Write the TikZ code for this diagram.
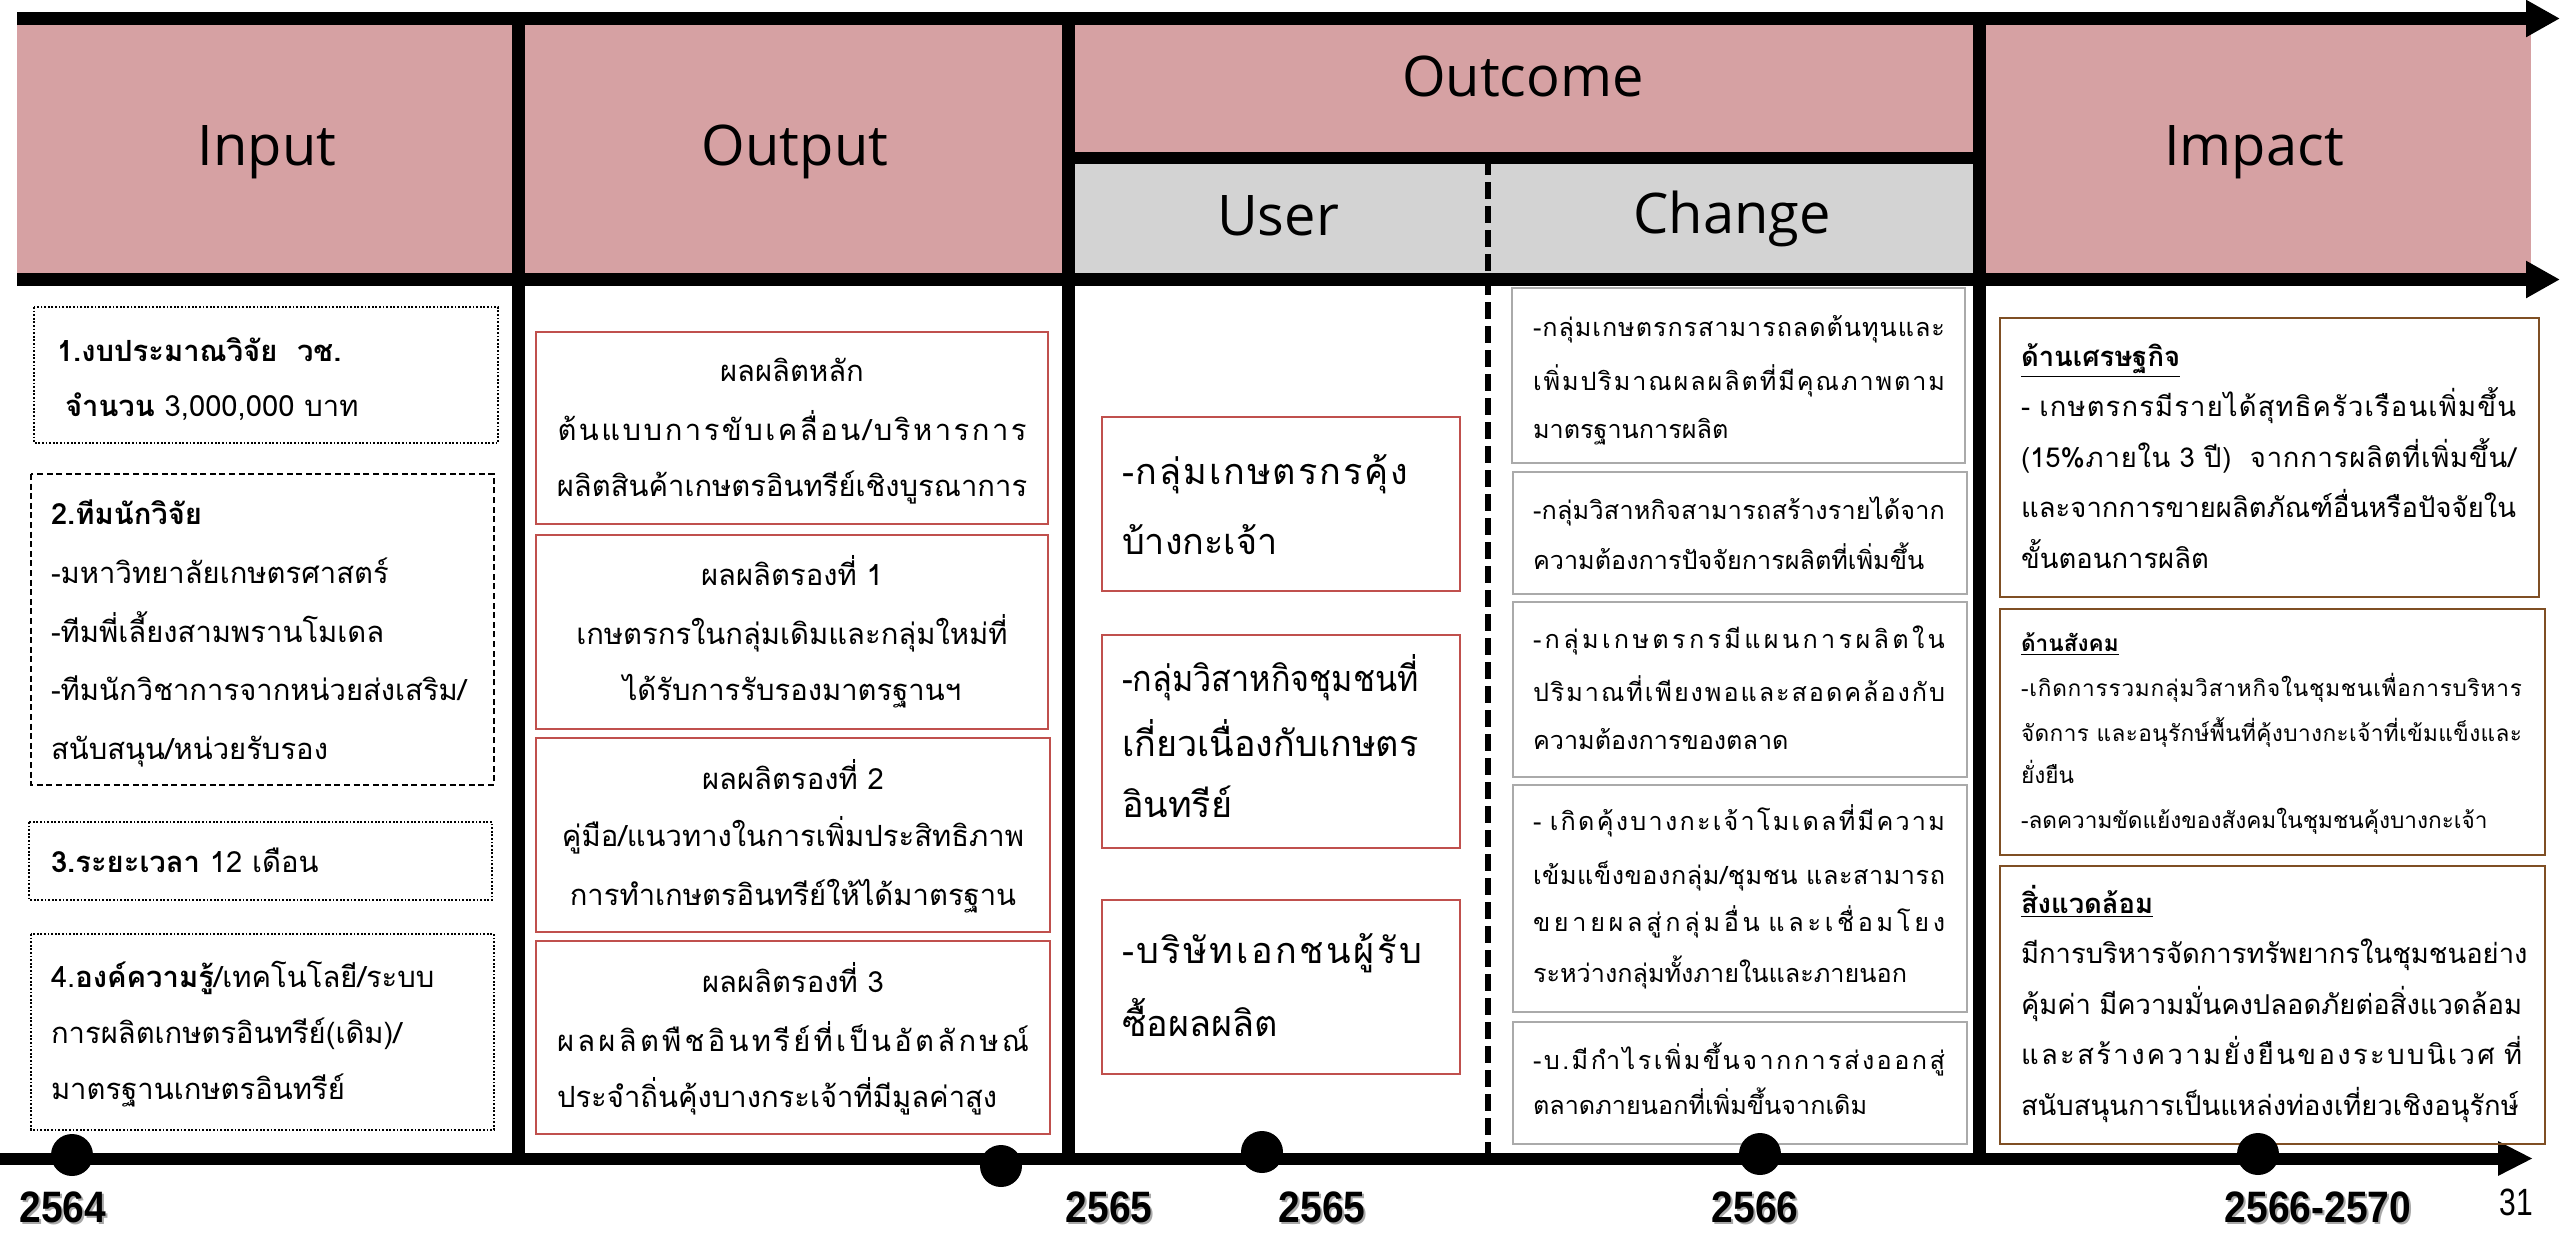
\documentclass[tikz,border=0pt]{standalone}
\usepackage{fontspec}
\usetikzlibrary{arrows.meta}
\newfontfamily\thai[Script=Thai]{Loma}
\newfontfamily\hdr{Open Sans}
\newfontfamily\yrf{Liberation Sans}
\definecolor{hpink}{HTML}{D6A1A3}
\definecolor{hgray}{HTML}{D3D3D3}
\definecolor{ored}{HTML}{C0504D}
\definecolor{cgray}{HTML}{AAAAAA}
\definecolor{ibrown}{HTML}{7F4F24}
\definecolor{shad}{HTML}{A8A8A8}
% ---- Thai distributed justification via interchar glue ----
\XeTeXinterchartokenstate=0
\newXeTeXintercharclass\ThB
\newXeTeXintercharclass\ThM
\newcount\thc
\thc="0E01 \loop \XeTeXcharclass\thc=\ThB \advance\thc by 1 \ifnum\thc<"0E5C \repeat
\XeTeXcharclass"0E31=\ThM
\thc="0E33 \loop \XeTeXcharclass\thc=\ThM \advance\thc by 1 \ifnum\thc<"0E3B \repeat
\thc="0E47 \loop \XeTeXcharclass\thc=\ThM \advance\thc by 1 \ifnum\thc<"0E4F \repeat
\def\thglue{\hskip 0pt plus 1fil\relax}
\XeTeXinterchartoks\ThB\ThB={\thglue}
\XeTeXinterchartoks\ThM\ThB={\thglue}
\XeTeXinterchartoks 0 \ThB={\thglue}
\XeTeXinterchartoks\ThB 0 ={\thglue}
\XeTeXinterchartoks\ThM 0 ={\thglue}
\newcommand\spr[2]{\makebox[#1][s]{\XeTeXinterchartokenstate=1 #2}}
\newcounter{lnc}
\newcommand\TL[4][]{\stepcounter{lnc}\node[tline,#1] (ln\arabic{lnc}) at (#2,#3) {#4};}
\newcommand\YR[3]{\node[yrs] (ys#1) at ([xshift=1pt,yshift=-1pt]#2) {\scalebox{0.885}[1]{#3}};
  \node[yr] (y#1) at (#2) {\scalebox{0.885}[1]{#3}};}
\begin{document}
\begin{tikzpicture}[x=0.5pt,y=-0.5pt,
  tline/.style={anchor=base west,inner sep=0pt,outer sep=0pt},
  fin/.style={font=\thai\fontsize{14.6pt}{18pt}\selectfont},
  fout/.style={font=\thai\fontsize{14.6pt}{18pt}\selectfont,anchor=base},
  fuser/.style={font=\thai\fontsize{18pt}{22pt}\selectfont},
  fchg/.style={font=\thai\fontsize{12.6pt}{16pt}\selectfont},
  fimp/.style={font=\thai\fontsize{13.7pt}{16pt}\selectfont},
  fimpb/.style={font=\thai\fontsize{11.3pt}{14pt}\selectfont},
  hlab/.style={font=\hdr\fontsize{28pt}{32pt}\selectfont,anchor=base,inner sep=0pt},
  yr/.style={font=\yrf\bfseries\fontsize{22pt}{26pt}\selectfont,anchor=base,inner sep=0pt},
  yrs/.style={yr,text=shad},
  sep/.style={line width=6.5pt},
  axis/.style={line width=6.5pt,-{Triangle[length=17pt,width=17.5pt]}},
  dotbox/.style={draw=black,line width=0.8pt,dash pattern=on 0.9pt off 0.9pt},
  dashbox/.style={draw=black,line width=0.9pt,dash pattern=on 3pt off 1.8pt},
  redbox/.style={draw=ored,line width=1.2pt},
  graybox/.style={draw=cgray,line width=1.4pt},
  brownbox/.style={draw=ibrown,line width=1.1pt},
  dot/.style={fill=black}]
\useasboundingbox (0,0) rectangle (2560,1232);
\fill[white] (0,0) rectangle (2560,1232);
% header fills
\fill[hpink] (17,25) rectangle (2531,273);
\fill[hgray] (1068,158) rectangle (1979,279);
% coordinates
\coordinate (dT) at (1488,158);
\coordinate (dB) at (1488,1158);
\coordinate (s1T) at (518,18); \coordinate (s1B) at (518,1158);
\coordinate (s2T) at (1068,18); \coordinate (s2B) at (1068,1158);
\coordinate (s3T) at (1979,18); \coordinate (s3B) at (1979,1158);
\coordinate (mL) at (1068,158); \coordinate (mR) at (1979,158);
\coordinate (tA) at (17,18.5); \coordinate (tB) at (2560,18.5);
\coordinate (hA) at (17,279.5); \coordinate (hB) at (2560,279.5);
\coordinate (aA) at (0,1158.5); \coordinate (aB) at (2533,1158.5);
% dashed user/change separator
\draw[line width=3pt,dash pattern=on 8.5pt off 3.5pt] (dT) -- (dB);
% solid separators
\draw[sep] (s1T) -- (s1B);
\draw[sep] (s2T) -- (s2B);
\draw[sep] (s3T) -- (s3B);
\draw[line width=6pt] (mL) -- (mR);
% arrows
\draw[axis] (tA) -- (tB);
\draw[axis] (hA) -- (hB);
\draw[line width=6pt,-{Triangle[length=17.5pt,width=16pt]}] (aA) -- (aB);
% header labels
\node[hlab] (hin) at (267,165) {Input};
\node[hlab] (hout) at (795,165) {Output};
\node[hlab] (hoc) at (1523,96) {Outcome};
\node[hlab] (hus) at (1278,235) {User};
\node[hlab] (hch) at (1732,233) {Change};
\node[hlab] (him) at (2254,165) {Impact};
% ---------- Input boxes ----------
\draw[dotbox] (34,307) rectangle (498,443);
\draw[dashbox] (31,474) rectangle (494,785);
\draw[dotbox] (29,822) rectangle (492,900);
\draw[dotbox] (31,934) rectangle (494,1130);
\TL[fin]{57}{361}{\textbf{1.งบประมาณวิจัย\ \ วช.}}
\TL[fin]{65}{416}{\textbf{จำนวน} 3,000,000 บาท}
\TL[fin]{51}{524}{\textbf{2.ทีมนักวิจัย}}
\TL[fin]{51}{583}{-มหาวิทยาลัยเกษตรศาสตร์}
\TL[fin]{51}{642}{-ทีมพี่เลี้ยงสามพรานโมเดล}
\TL[fin]{51}{700}{-ทีมนักวิชาการจากหน่วยส่งเสริม/}
\TL[fin]{51}{759}{สนับสนุน/หน่วยรับรอง}
\TL[fin]{51}{872}{\textbf{3.ระยะเวลา} 12 เดือน}
\TL[fin]{51}{987}{4.\textbf{องค์ความรู้}/เทคโนโลยี/ระบบ}
\TL[fin]{51}{1043}{การผลิตเกษตรอินทรีย์(เดิม)/}
\TL[fin]{51}{1099}{มาตรฐานเกษตรอินทรีย์}
% ---------- Output boxes ----------
\draw[redbox] (536,332) rectangle (1048,524);
\draw[redbox] (536,535) rectangle (1048,729);
\draw[redbox] (536,738) rectangle (1050,932);
\draw[redbox] (536,941) rectangle (1050,1134);
\TL[fout]{792}{381}{ผลผลิตหลัก}
\TL[fout]{792}{440}{\spr{234.5pt}{ต้นแบบการขับเคลื่อน/บริหารการ}}
\TL[fout]{792}{496}{ผลิตสินค้าเกษตรอินทรีย์เชิงบูรณาการ}
\TL[fout]{792}{585}{ผลผลิตรองที่ 1}
\TL[fout]{792}{644}{เกษตรกรในกลุ่มเดิมและกลุ่มใหม่ที่}
\TL[fout]{792}{700}{ได้รับการรับรองมาตรฐานฯ}
\TL[fout]{793}{789}{ผลผลิตรองที่ 2}
\TL[fout]{793}{846}{คู่มือ/แนวทางในการเพิ่มประสิทธิภาพ}
\TL[fout]{793}{905}{การทำเกษตรอินทรีย์ให้ได้มาตรฐาน}
\TL[fout]{793}{992}{ผลผลิตรองที่ 3}
\TL[fout]{793}{1051}{\spr{236pt}{ผลผลิตพืชอินทรีย์ที่เป็นอัตลักษณ์}}
\TL[fout,anchor=base west]{557}{1107}{ประจำถิ่นคุ้งบางกระเจ้าที่มีมูลค่าสูง}
% ---------- User boxes ----------
\draw[redbox] (1102,417) rectangle (1460,591);
\draw[redbox] (1102,635) rectangle (1460,848);
\draw[redbox] (1102,900) rectangle (1460,1074);
\TL[fuser]{1122}{484}{\spr{143pt}{-กลุ่มเกษตรกรคุ้ง}}
\TL[fuser]{1122}{554}{บ้างกะเจ้า}
\TL[fuser]{1122}{691}{\scalebox{0.9}[1]{-กลุ่มวิสาหกิจชุมชนที่}}
\TL[fuser]{1122}{756}{เกี่ยวเนื่องกับเกษตร}
\TL[fuser]{1122}{817}{อินทรีย์}
\TL[fuser]{1122}{963}{\spr{150pt}{-บริษัทเอกชนผู้รับ}}
\TL[fuser]{1122}{1036}{ซื้อผลผลิต}
% ---------- Change boxes ----------
\draw[graybox] (1512,288) rectangle (1965,463);
\draw[graybox] (1513,472) rectangle (1967,594);
\draw[graybox] (1513,602) rectangle (1967,777);
\draw[graybox] (1513,785) rectangle (1967,1012);
\draw[graybox] (1513,1022) rectangle (1967,1144);
\TL[fchg]{1533}{336}{\spr{206pt}{-กลุ่มเกษตรกรสามารถลดต้นทุนและ}}
\TL[fchg]{1533}{390}{\spr{206pt}{เพิ่มปริมาณผลผลิตที่มีคุณภาพตาม}}
\TL[fchg]{1533}{438}{มาตรฐานการผลิต}
\TL[fchg]{1533}{519}{\spr{206pt}{-กลุ่มวิสาหกิจสามารถสร้างรายได้จาก}}
\TL[fchg]{1533}{569}{ความต้องการปัจจัยการผลิตที่เพิ่มขึ้น}
\TL[fchg]{1533}{648}{\spr{206pt}{-กลุ่มเกษตรกรมีแผนการผลิตใน}}
\TL[fchg]{1533}{701}{\spr{206pt}{ปริมาณที่เพียงพอและสอดคล้องกับ}}
\TL[fchg]{1533}{749}{ความต้องการของตลาด}
\TL[fchg]{1533}{830}{\spr{206pt}{- เกิดคุ้งบางกะเจ้าโมเดลที่มีความ}}
\TL[fchg]{1533}{884}{\spr{206pt}{เข้มแข็งของกลุ่ม/ชุมชน และสามารถ}}
\TL[fchg]{1533}{931}{\spr{206pt}{ขยายผลสู่กลุ่มอื่น และเชื่อมโยง}}
\TL[fchg]{1533}{982}{ระหว่างกลุ่มทั้งภายในและภายนอก}
\TL[fchg]{1533}{1069}{\spr{206pt}{-บ.มีกำไรเพิ่มขึ้นจากการส่งออกสู่}}
\TL[fchg]{1533}{1114}{ตลาดภายนอกที่เพิ่มขึ้นจากเดิม}
% ---------- Impact boxes ----------
\draw[brownbox] (2000,318) rectangle (2539,597);
\draw[brownbox] (2000,609) rectangle (2545,855);
\draw[brownbox] (2000,866) rectangle (2545,1144);
\TL[fimp]{2021}{366}{\underline{\textbf{ด้านเศรษฐกิจ}}}
\TL[fimp]{2021}{416}{\spr{247.5pt}{- เกษตรกรมีรายได้สุทธิครัวเรือนเพิ่มขึ้น}}
\TL[fimp]{2021}{467}{\spr{247.5pt}{(15\%ภายใน 3 ปี)\ \ จากการผลิตที่เพิ่มขึ้น/}}
\TL[fimp]{2021}{517}{\spr{247.5pt}{และจากการขายผลิตภัณฑ์อื่นหรือปัจจัยใน}}
\TL[fimp]{2021}{568}{ขั้นตอนการผลิต}
\TL[fimpb]{2021}{651}{\underline{\textbf{ด้านสังคม}}}
\TL[fimpb]{2021}{696}{\spr{250.5pt}{-เกิดการรวมกลุ่มวิสาหกิจในชุมชนเพื่อการบริหาร}}
\TL[fimpb]{2021}{741}{\spr{250.5pt}{จัดการ และอนุรักษ์พื้นที่คุ้งบางกะเจ้าที่เข้มแข็งและ}}
\TL[fimpb]{2021}{783}{ยั่งยืน}
\TL[fimpb]{2021}{828}{-ลดความขัดแย้งของสังคมในชุมชนคุ้งบางกะเจ้า}
\TL[fimp]{2021}{913}{\underline{\textbf{สิ่งแวดล้อม}}}
\TL[fimp]{2021}{963}{\spr{250.5pt}{มีการบริหารจัดการทรัพยากรในชุมชนอย่าง}}
\TL[fimp]{2021}{1014}{\spr{250.5pt}{คุ้มค่า มีความมั่นคงปลอดภัยต่อสิ่งแวดล้อม}}
\TL[fimp]{2021}{1064}{\spr{250.5pt}{และสร้างความยั่งยืนของระบบนิเวศ ที่}}
\TL[fimp]{2021}{1115}{สนับสนุนการเป็นแหล่งท่องเที่ยวเชิงอนุรักษ์}
% ---------- timeline dots ----------
\fill[dot] (72,1155) circle[radius=21];
\fill[dot] (1001,1166) circle[radius=21];
\fill[dot] (1262,1152) circle[radius=21];
\fill[dot] (1760,1154) circle[radius=21];
\fill[dot] (2258,1154) circle[radius=21];
% ---------- years ----------
\coordinate (p1) at (63,1222);
\coordinate (p2) at (1109,1222);
\coordinate (p3) at (1322,1222);
\coordinate (p4) at (1755,1222);
\coordinate (p5) at (2318,1222);
\YR{1}{p1}{2564}
\YR{2}{p2}{2565}
\YR{3}{p3}{2565}
\YR{4}{p4}{2566}
\YR{5}{p5}{2566-2570}
\node[font=\yrf\fontsize{19pt}{22pt}\selectfont,anchor=base,inner sep=0pt] (pg) at (2516,1215) {\scalebox{0.79}[1]{31}};
\end{tikzpicture}
\end{document}
